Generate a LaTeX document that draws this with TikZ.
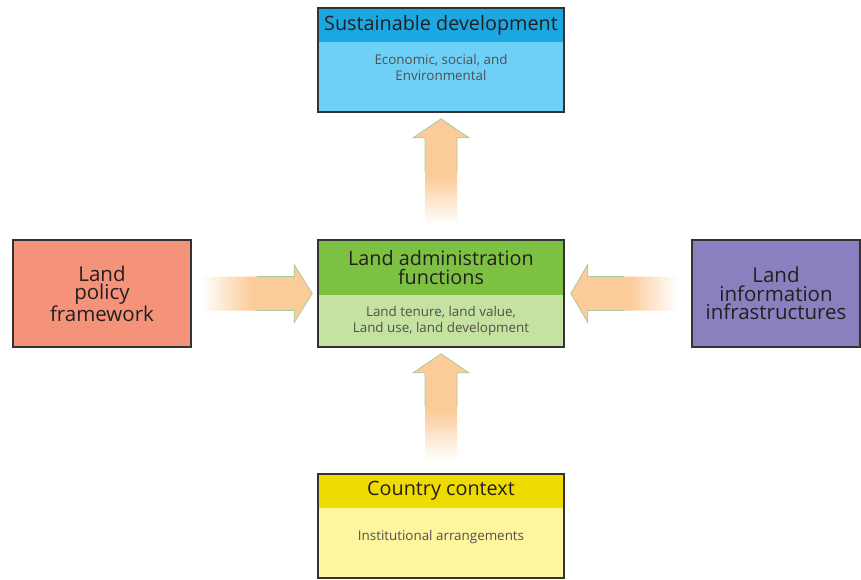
\documentclass[tikz,border=0pt]{standalone}
\usepackage{fontspec}
\setmainfont{Open Sans}
\usetikzlibrary{positioning}
\usetikzlibrary{fit}
\usetikzlibrary{calc}

\definecolor{sdhead}{HTML}{1BA8E2}
\definecolor{sdbody}{HTML}{6ED0F6}
\definecolor{admhead}{HTML}{7DC142}
\definecolor{admbody}{HTML}{C6E2A0}
\definecolor{cchead}{HTML}{EEDC00}
\definecolor{ccbody}{HTML}{FFF59E}
\definecolor{policyfill}{HTML}{F4937A}
\definecolor{infofill}{HTML}{8A80BF}
\definecolor{framecol}{HTML}{333333}
\definecolor{textdark}{HTML}{231F20}
\definecolor{textgray}{HTML}{505050}
\definecolor{arrowfill}{HTML}{FBCB99}
\definecolor{arrowline}{HTML}{A9CC9E}

\pgfdeclarehorizontalshading{fadeleft}{100bp}{color(0bp)=(white); color(25bp)=(white);
    color(48bp)=(arrowfill); color(100bp)=(arrowfill)}
\pgfdeclarehorizontalshading{faderight}{100bp}{color(0bp)=(arrowfill); color(52bp)=(arrowfill);
    color(75bp)=(white); color(100bp)=(white)}
\pgfdeclareverticalshading{fadeup}{100bp}{color(0bp)=(white); color(25bp)=(white);
    color(48bp)=(arrowfill); color(100bp)=(arrowfill)}

\tikzset{
    boxhead/.style={
        minimum width=246pt,
        inner sep=0pt, outer sep=0pt,
        align=center,
        text=textdark,
        font=\fontsize{19.8}{18.5}\selectfont},
    boxbody/.style={
        minimum width=246pt,
        inner sep=0pt, outer sep=0pt},
    boxtext/.style={
        align=center,
        inner sep=0pt,
        text=textgray,
        font=\fontsize{13.4}{16}\selectfont},
    boxframe/.style={
        draw=framecol,
        line width=1.6pt,
        inner sep=0pt},
    sidebox/.style={
        boxframe,
        minimum height=107pt,
        align=center,
        text=textdark,
        font=\fontsize{20.5}{18.5}\selectfont},
    headline/.style={
        draw=arrowline,
        line width=0.8pt}}

\begin{document}
\begin{tikzpicture}[x=1pt,y=-1pt]
    \useasboundingbox (0,0) rectangle (861,579);

    % sustainable development
    \node[boxhead,fill=sdhead,minimum height=34pt] (sdtop) at (441,25) {Sustainable development};
    \node[boxbody,fill=sdbody,minimum height=70pt,below=0pt of sdtop] (sdbot) {};
    \node[boxtext,below=12pt of sdtop] (sdtxt) {Economic, social, and\\Environmental};
    \node[boxframe,fit=(sdtop)(sdbot)] (sd) {};

    % land administration functions
    \node[boxhead,fill=admhead,minimum height=55pt] (admtop) at (441,267.5) {Land administration\\functions};
    \node[boxbody,fill=admbody,minimum height=52pt,below=0pt of admtop] (admbot) {};
    \node[boxtext] (admtxt) at (admbot) {Land tenure, land value,\\Land use, land development};
    \node[boxframe,fit=(admtop)(admbot)] (adm) {};

    % country context
    \node[boxhead,fill=cchead,minimum height=34pt] (cctop) at (441,491) {Country context};
    \node[boxbody,fill=ccbody,minimum height=70pt,below=0pt of cctop] (ccbot) {};
    \node[boxtext,below=22pt of cctop] (cctxt) {Institutional arrangements};
    \node[boxframe,fit=(cctop)(ccbot)] (cc) {};

    % side boxes
    \node[sidebox,fill=policyfill,minimum width=178pt] (policy) at (102,293.5) {Land\\policy\\framework};
    \node[sidebox,fill=infofill,minimum width=168pt] (info) at (776,293.5) {Land\\information\\infrastructures};

    % arrows
    \shade[shading=fadeup] let \p1=($(adm.north)+(0,15pt)$), \p2=($(sd.south)+(0,-6pt)$) in
        (\x1-16pt,\y1) -- (\x1-16pt,\y2-19pt) -- (\x1-28pt,\y2-19pt) -- (\x2,\y2)
        -- (\x1+28pt,\y2-19pt) -- (\x1+16pt,\y2-19pt) -- (\x1+16pt,\y1) -- cycle;
    \draw[headline] let \p1=($(adm.north)+(0,15pt)$), \p2=($(sd.south)+(0,-6pt)$),
        \p3=($(\p1)!0.5!(\p2)$) in
        (\x1-16pt,\y3) -- (\x1-16pt,\y2-19pt) -- (\x1-28pt,\y2-19pt) -- (\x2,\y2)
        -- (\x1+28pt,\y2-19pt) -- (\x1+16pt,\y2-19pt) -- (\x1+16pt,\y3);

    \shade[shading=fadeup] let \p1=($(cc.north)+(0,14pt)$), \p2=($(adm.south)+(0,-6pt)$) in
        (\x1-16pt,\y1) -- (\x1-16pt,\y2-19pt) -- (\x1-28pt,\y2-19pt) -- (\x2,\y2)
        -- (\x1+28pt,\y2-19pt) -- (\x1+16pt,\y2-19pt) -- (\x1+16pt,\y1) -- cycle;
    \draw[headline] let \p1=($(cc.north)+(0,14pt)$), \p2=($(adm.south)+(0,-6pt)$),
        \p3=($(\p1)!0.5!(\p2)$) in
        (\x1-16pt,\y3) -- (\x1-16pt,\y2-19pt) -- (\x1-28pt,\y2-19pt) -- (\x2,\y2)
        -- (\x1+28pt,\y2-19pt) -- (\x1+16pt,\y2-19pt) -- (\x1+16pt,\y3);

    \shade[shading=fadeleft] let \p1=($(policy.east)+(9pt,0)$), \p2=($(adm.west)+(-5pt,0)$) in
        (\x1,\y1+17pt) -- (\x2-18pt,\y1+17pt) -- (\x2-18pt,\y1+29pt) -- (\x2,\y2)
        -- (\x2-18pt,\y1-29pt) -- (\x2-18pt,\y1-17pt) -- (\x1,\y1-17pt) -- cycle;
    \draw[headline] let \p1=($(policy.east)+(9pt,0)$), \p2=($(adm.west)+(-5pt,0)$),
        \p3=($(\p1)!0.5!(\p2)$) in
        (\x3,\y1+17pt) -- (\x2-18pt,\y1+17pt) -- (\x2-18pt,\y1+29pt) -- (\x2,\y2)
        -- (\x2-18pt,\y1-29pt) -- (\x2-18pt,\y1-17pt) -- (\x3,\y1-17pt);

    \shade[shading=faderight] let \p1=($(info.west)+(-14pt,0)$), \p2=($(adm.east)+(6pt,0)$) in
        (\x1,\y1+17pt) -- (\x2+17pt,\y1+17pt) -- (\x2+17pt,\y1+29pt) -- (\x2,\y2)
        -- (\x2+17pt,\y1-29pt) -- (\x2+17pt,\y1-17pt) -- (\x1,\y1-17pt) -- cycle;
    \draw[headline] let \p1=($(info.west)+(-14pt,0)$), \p2=($(adm.east)+(6pt,0)$),
        \p3=($(\p1)!0.5!(\p2)$) in
        (\x3,\y1+17pt) -- (\x2+17pt,\y1+17pt) -- (\x2+17pt,\y1+29pt) -- (\x2,\y2)
        -- (\x2+17pt,\y1-29pt) -- (\x2+17pt,\y1-17pt) -- (\x3,\y1-17pt);
\end{tikzpicture}
\end{document}
